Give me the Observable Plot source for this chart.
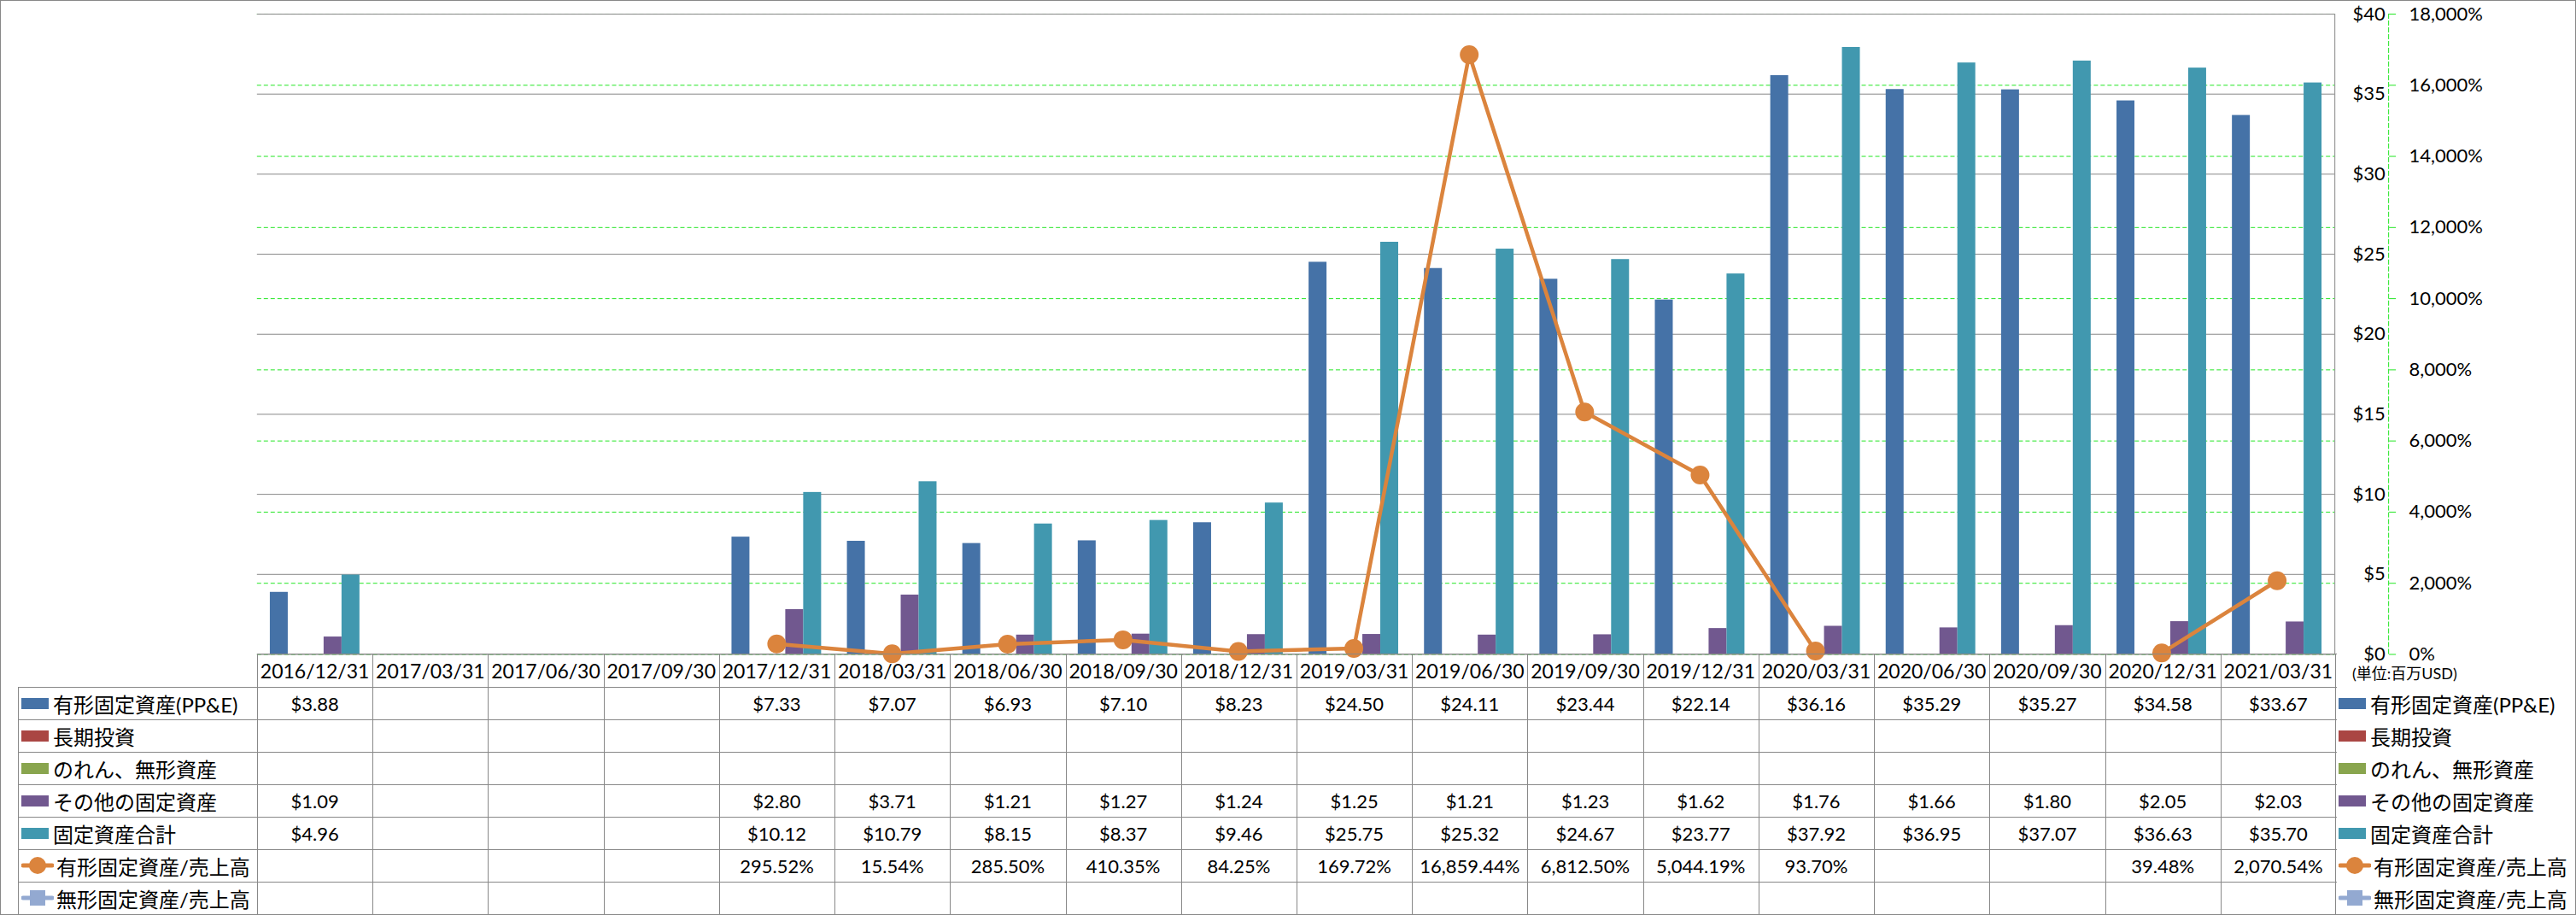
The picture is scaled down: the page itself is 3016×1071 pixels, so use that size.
<!DOCTYPE html>
<html>
<head>
<meta charset="utf-8">
<script src="https://cdn.jsdelivr.net/npm/d3@7"></script>
<script src="https://cdn.jsdelivr.net/npm/@observablehq/plot@0.6"></script>
<style>
  html, body { margin: 0; padding: 0; background: #fff; }
  #chart { position: relative; width: 3016px; height: 1071px; box-sizing: border-box; border: 1px solid #888; background: #fff; overflow: hidden; font-family: Lato, "Noto Sans CJK JP", sans-serif; color: #000; }
  #chart svg { position: absolute; left: 0; top: 0; }
  .ln { position: absolute; background: #888; }
  .cell { position: absolute; display: flex; align-items: center; justify-content: center; font-size: 22px; white-space: nowrap; }
  .hd { font-size: 23px; }
  .lab { position: absolute; display: flex; align-items: center; font-size: 24px; white-space: nowrap; }
  .sw { display: inline-block; width: 32px; height: 13px; margin-right: 5px; flex: none; }
</style>
</head>
<body>
<div id="chart"></div>
<script>
// ---------- data ----------
const categories = ["2016/12/31","2017/03/31","2017/06/30","2017/09/30","2017/12/31","2018/03/31","2018/06/30","2018/09/30","2018/12/31","2019/03/31","2019/06/30","2019/09/30","2019/12/31","2020/03/31","2020/06/30","2020/09/30","2020/12/31","2021/03/31"];
const barSeriesNames = ["有形固定資産(PP&E)","長期投資","のれん、無形資産","その他の固定資産","固定資産合計"];
const ppe = [3.88,null,null,null,7.33,7.07,6.93,7.10,8.23,24.50,24.11,23.44,22.14,36.16,35.29,35.27,34.58,33.67];
const longTermInvestments = [null,null,null,null,null,null,null,null,null,null,null,null,null,null,null,null,null,null];
const goodwillIntangibles = [null,null,null,null,null,null,null,null,null,null,null,null,null,null,null,null,null,null];
const otherFixedAssets = [1.09,null,null,null,2.80,3.71,1.21,1.27,1.24,1.25,1.21,1.23,1.62,1.76,1.66,1.80,2.05,2.03];
const totalFixedAssets = [4.96,null,null,null,10.12,10.79,8.15,8.37,9.46,25.75,25.32,24.67,23.77,37.92,36.95,37.07,36.63,35.70];
const lineSeriesNames = ["有形固定資産/売上高","無形固定資産/売上高"];
const ppeToSales = [null,null,null,null,295.52,15.54,285.50,410.35,84.25,169.72,16859.44,6812.50,5044.19,93.70,null,null,39.48,2070.54];
const intangibleToSales = [null,null,null,null,null,null,null,null,null,null,null,null,null,null,null,null,null,null];
const dollarTicks = [0,5,10,15,20,25,30,35,40];
const percentTicks = [0,2000,4000,6000,8000,10000,12000,14000,16000,18000];
const unitLabel = "(単位:百万USD)";

// ---------- styles ----------
const barColors = ["#4572a7","#aa4643","#89a54e","#71588f","#4198af"];
const lineColors = ["#db843d","#93a9d1"];
const GREEN = "#22e622";
const GRAY = "#888";
const FONT = 'Lato, "Noto Sans CJK JP", sans-serif';
const W = 3016, PH = 765, MT = 15, ML = 300, MR = 282;

const barValues = [ppe, longTermInvestments, goodwillIntangibles, otherFixedAssets, totalFixedAssets];
const lineValues = [ppeToSales, intangibleToSales];

const barData = [];
barValues.forEach((vals, si) => vals.forEach((v, i) => {
  if (v != null) barData.push({date: categories[i], series: barSeriesNames[si], value: v});
}));
const lineData = categories.map((c, i) => ({date: c, value: ppeToSales[i]}));

const chart = document.getElementById("chart");
const common = {width: W, height: PH, marginTop: MT, marginBottom: 0, marginLeft: ML, marginRight: MR};
const axisStyle = {background: "transparent", fontFamily: FONT, fontSize: "22px", color: "#000", overflow: "visible"};

// Layer 1: percent grid + percent axis
const pctPlot = Plot.plot({
  ...common,
  style: axisStyle,
  y: {domain: [0, 18000], axis: null},
  marks: [
    Plot.gridY(percentTicks, {stroke: GREEN, strokeOpacity: 1, strokeDasharray: "5,3"}),
    Plot.frame({anchor: "right", dx: 63, stroke: GREEN, strokeDasharray: "5,3"}),
    Plot.axisY(percentTicks, {anchor: "right", label: null, dx: 63, tickSize: 8, tickPadding: 16, stroke: GREEN, fill: "#000",
      tickFormat: d => d3.format(",")(d) + "%", fontSize: 22})
  ]
});
chart.appendChild(pctPlot);

// Layer 0 (drawn over the green grid): dollar grid + dollar axis + plot border
const dollarPlot = Plot.plot({
  ...common,
  style: axisStyle,
  y: {domain: [0, 40], axis: null},
  marks: [
    Plot.gridY(dollarTicks, {stroke: GRAY, strokeOpacity: 1}),
    Plot.frame({anchor: "right", stroke: GRAY}),
    Plot.axisY(dollarTicks, {anchor: "right", label: null, tickSize: 0, tickPadding: 59, textAnchor: "end",
      tickFormat: d => "$" + d, fontSize: 22})
  ]
});
chart.appendChild(dollarPlot);

// Layer 2: bars (faceted by date)
const barPlot = Plot.plot({
  ...common,
  style: {background: "transparent", overflow: "visible"},
  facet: {data: barData, x: "date"},
  fx: {domain: categories, padding: 0, axis: null, round: false},
  x: {domain: barSeriesNames, paddingInner: 0, paddingOuter: 0.72, axis: null, round: false},
  y: {domain: [0, 40], axis: null},
  color: {domain: barSeriesNames, range: barColors},
  marks: [
    Plot.barY(barData, {x: "series", y: "value", fill: "series"})
  ]
});
chart.appendChild(barPlot);

// Layer 3: ratio line
const linePlot = Plot.plot({
  ...common,
  style: {background: "transparent", overflow: "visible"},
  x: {type: "band", domain: categories, padding: 0, axis: null, round: false},
  y: {domain: [0, 18000], axis: null},
  marks: [
    Plot.line(lineData, {x: "date", y: "value", stroke: lineColors[0], strokeWidth: 4.5}),
    Plot.dot(lineData.filter(d => d.value != null), {x: "date", y: "value", r: 11, fill: lineColors[0], stroke: "none"})
  ]
});
chart.appendChild(linePlot);

// ---------- data table ----------
const fx = linePlot.scale("x");
const bw = fx.bandwidth;
const colLeft = categories.map(c => fx.apply(c));
const tableRight = colLeft[colLeft.length - 1] + bw;
const headTop = PH - 1, headH = 39, rowH = 38;
const rowTops = [];
for (let r = 0; r < 7; r++) rowTops.push(headTop + headH + r * rowH);
const tableBottom = headTop + headH + 7 * rowH;
const labelLeft = 20;

function line(x, y, w, h) {
  const d = document.createElement("div");
  d.className = "ln";
  Object.assign(d.style, {left: x + "px", top: y + "px", width: w + "px", height: h + "px"});
  chart.appendChild(d);
}
function cell(x, y, w, h, text, cls = "cell", fs) {
  const d = document.createElement("div");
  d.className = cls;
  Object.assign(d.style, {left: x + "px", top: y + "px", width: w + "px", height: h + "px"});
  if (fs) d.style.fontSize = fs;
  if (typeof text === "string") d.textContent = text; else d.appendChild(text);
  chart.appendChild(d);
  return d;
}
function symbol(i) {
  if (i < 5) {
    const s = document.createElement("span");
    s.className = "sw";
    s.style.background = barColors[i];
    return s;
  }
  const c = lineColors[i - 5];
  const ns = "http://www.w3.org/2000/svg";
  const svg = document.createElementNS(ns, "svg");
  svg.setAttribute("width", 38); svg.setAttribute("height", 22);
  svg.style.position = "static"; svg.style.marginRight = "3px"; svg.style.flex = "none";
  const l = document.createElementNS(ns, "line");
  l.setAttribute("x1", 2); l.setAttribute("x2", 36); l.setAttribute("y1", 11); l.setAttribute("y2", 11);
  l.setAttribute("stroke", c); l.setAttribute("stroke-width", 5); l.setAttribute("stroke-linecap", "round");
  svg.appendChild(l);
  let m;
  if (i === 5) {
    m = document.createElementNS(ns, "circle");
    m.setAttribute("cx", 19); m.setAttribute("cy", 11); m.setAttribute("r", 10);
  } else {
    m = document.createElementNS(ns, "rect");
    m.setAttribute("x", 10); m.setAttribute("y", 2); m.setAttribute("width", 18); m.setAttribute("height", 18);
  }
  m.setAttribute("fill", c);
  svg.appendChild(m);
  return svg;
}
function labelNode(i, name) {
  const wrap = document.createElement("span");
  wrap.style.display = "flex"; wrap.style.alignItems = "center";
  wrap.appendChild(symbol(i));
  const t = document.createElement("span");
  t.textContent = name;
  wrap.appendChild(t);
  return wrap;
}

// grid lines of the table
line(ML, headTop, tableRight - ML + 1, 1);
rowTops.forEach(y => line(labelLeft, y, tableRight - labelLeft + 1, 1));
line(labelLeft, tableBottom, tableRight - labelLeft + 1, 1);
line(labelLeft, rowTops[0], 1, tableBottom - rowTops[0]);
colLeft.forEach(x => line(Math.round(x), headTop, 1, tableBottom - headTop));
line(Math.round(tableRight) - 1, headTop, 1, tableBottom - headTop);

// header
categories.forEach((c, i) => cell(colLeft[i], headTop, bw, headH, c, "cell hd"));
cell(2753, headTop + 2, 220, headH, unitLabel, "lab", "18px");

// rows
const allNames = barSeriesNames.concat(lineSeriesNames);
const allValues = barValues.concat(lineValues);
const fmtDollar = v => "$" + v.toFixed(2);
const fmtPct = v => d3.format(",.2f")(v) + "%";
allNames.forEach((name, r) => {
  const y = rowTops[r];
  cell(labelLeft + 4, y, ML - labelLeft - 4, rowH, labelNode(r, name), "lab");
  cell(tableRight + 3, y, W - tableRight - 3, rowH, labelNode(r, name), "lab");
  allValues[r].forEach((v, i) => {
    if (v == null) return;
    cell(colLeft[i], y, bw, rowH, r < 5 ? fmtDollar(v) : fmtPct(v));
  });
});
</script>
</body>
</html>
